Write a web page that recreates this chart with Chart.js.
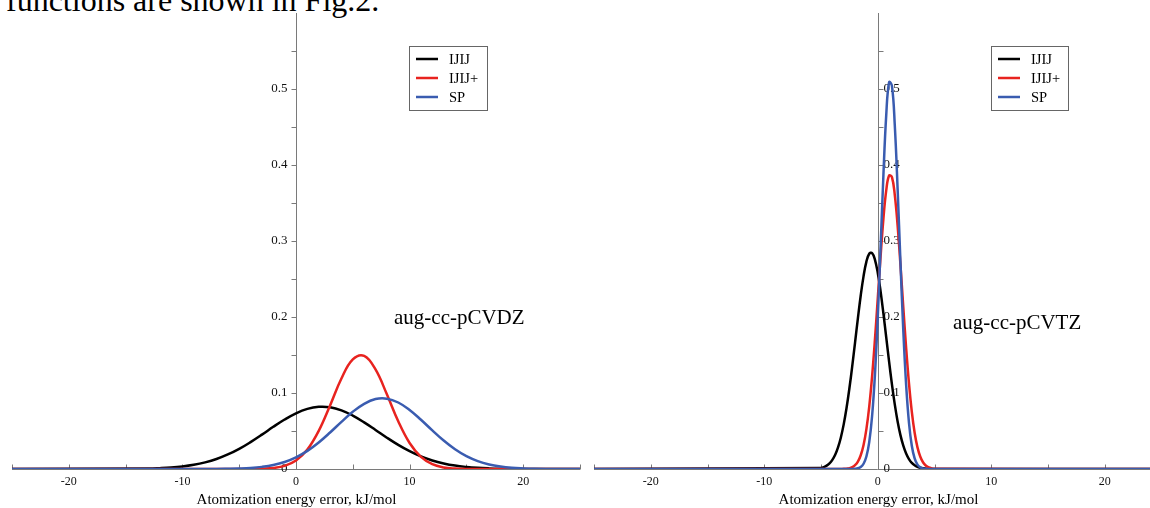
<!DOCTYPE html>
<html>
<head>
<meta charset="utf-8">
<script src="https://cdn.jsdelivr.net/npm/chart.js@4.4.0/dist/chart.umd.min.js"></script>
<style>
  html, body { margin: 0; padding: 0; background: #fff; }
  #wrap { position: relative; width: 1150px; height: 508px; overflow: hidden; background: #fff; }
  #caption { position: absolute; left: 6px; top: -18px; line-height: 32px; font: 32px "Liberation Serif", serif; color: #000; white-space: nowrap; }
  .panel { position: absolute; top: 0; height: 508px; }
  #panelL { left: 0; width: 600px; }
  #panelR { left: 590px; width: 580px; }
</style>
</head>
<body>
<div id="wrap">
  <div id="caption">functions are shown in Fig.2.</div>
  <div class="panel" id="panelL"><canvas id="chartL" width="600" height="508"></canvas></div>
  <div class="panel" id="panelR"><canvas id="chartR" width="580" height="508"></canvas></div>
</div>
<script>
// --- Data ---
const seriesNames = ['IJIJ', 'IJIJ+', 'SP'];
const seriesColors = ['#000000', '#e8231f', '#3a5cb0'];

// aug-cc-pCVDZ panel
const leftX = [-25, -13, -12, -11, -10, -9, -8, -7, -6, -5, -4, -3, -2, -1, 0, 1, 2, 3, 4, 5, 6, 7, 8, 9, 10,
  11, 12, 13, 14, 15, 16, 17, 18, 19, 20, 21, 22, 25];
const leftIJIJ = [0, 0.0006, 0.0011, 0.0019, 0.0033, 0.0055, 0.0087, 0.0131, 0.0191, 0.0265, 0.0354, 0.0452,
  0.0555, 0.0651, 0.0733, 0.0791, 0.0818, 0.0812, 0.0772, 0.0703, 0.0614, 0.0514, 0.0412, 0.0317, 0.0234,
  0.0165, 0.0112, 0.0073, 0.0045, 0.0027, 0.0015, 0.0008, 0.0004, 0.0002, 0.0001, 0, 0, 0];
const leftIJIJplus = [0, 0, 0, 0, 0, 0, 0, 0, 0, 0, 0, 0.0004, 0.0013, 0.0041, 0.0111, 0.0256, 0.0502, 0.0837,
  0.1190, 0.1442, 0.1489, 0.1310, 0.0983, 0.0628, 0.0342, 0.0159, 0.0063, 0.0021, 0.0006, 0.0001,
  0, 0, 0, 0, 0, 0, 0, 0];
const leftSP = [0, 0, 0, 0, 0, 0, 0, 0, 0.0003, 0.0007, 0.0014, 0.0028, 0.0052, 0.0092, 0.0153, 0.0238, 0.0349,
  0.0480, 0.0620, 0.0753, 0.0858, 0.0920, 0.0925, 0.0875, 0.0777, 0.0648, 0.0508, 0.0374, 0.0259, 0.0168,
  0.0103, 0.0059, 0.0032, 0.0016, 0.0008, 0.0003, 0.0001, 0];

// aug-cc-pCVTZ panel
const rightX = [-25, -5, -4.75, -4.5, -4.25, -4, -3.75, -3.5, -3.25, -3, -2.75, -2.5, -2.25, -2, -1.75, -1.5,
  -1.25, -1, -0.75, -0.5, -0.25, 0, 0.25, 0.5, 0.75, 1, 1.25, 1.5, 1.75, 2, 2.25, 2.5, 2.75, 3, 3.25, 3.5,
  3.75, 4, 4.25, 4.5, 4.75, 5, 25];
const rightIJIJ = [0, 0.0014, 0.0025, 0.0044, 0.0074, 0.0120, 0.0187, 0.0284, 0.0415, 0.0587, 0.0802, 0.1059,
  0.1350, 0.1664, 0.1982, 0.2283, 0.2538, 0.2728, 0.2832, 0.2842, 0.2756, 0.2582, 0.2338, 0.2045, 0.1729,
  0.1412, 0.1114, 0.0850, 0.0626, 0.0446, 0.0307, 0.0204, 0.0131, 0.0081, 0.0049, 0.0028, 0.0016, 0.0009,
  0.0005, 0.0002, 0.0001, 0, 0];
const rightIJIJplus = [0, 0, 0, 0, 0, 0, 0, 0, 0.0001, 0.0002, 0.0005, 0.0011, 0.0024, 0.0050, 0.0097, 0.0181,
  0.0317, 0.0525, 0.0822, 0.1215, 0.1698, 0.2241, 0.2796, 0.3295, 0.3670, 0.3862, 0.3840, 0.3608, 0.3203,
  0.2687, 0.2130, 0.1595, 0.1129, 0.0755, 0.0477, 0.0285, 0.0161, 0.0086, 0.0043, 0.0020, 0.0009, 0.0004, 0];
const rightSP = [0, 0, 0, 0, 0, 0, 0, 0, 0, 0, 0, 0, 0.0001, 0.0003, 0.0009, 0.0026, 0.0069, 0.0164, 0.0354,
  0.0694, 0.1235, 0.1994, 0.2917, 0.3872, 0.4662, 0.5090, 0.5041, 0.4527, 0.3688, 0.2725, 0.1826, 0.1110,
  0.0611, 0.0306, 0.0139, 0.0057, 0.0021, 0.0007, 0.0002, 0, 0, 0, 0];

// --- Axes ---
const xMin = -25, xMax = 25, yMin = 0, yMax = 0.6;
const xTickMarks = [-25, -20, -15, -10, -5, 0, 5, 10, 15, 20, 25];
const xTickLabels = ['-20', '-10', '0', '10', '20'];
const yTickMarks = [0.05, 0.1, 0.15, 0.2, 0.25, 0.3, 0.35, 0.4, 0.45, 0.5, 0.55];
const yTickLabels = ['0', '0.1', '0.2', '0.3', '0.4', '0.5'];
const xTitle = 'Atomization energy error, kJ/mol';

const SERIF = '"Liberation Serif", "DejaVu Serif", serif';

// --- Custom axes through the origin + legend + basis label ---
function panelPlugin(cfg) {
  return {
    id: 'panelDecor',
    beforeDatasetsDraw(chart) {
      const { ctx, scales: { x, y } } = chart;
      const x0 = Math.round(x.getPixelForValue(0)) + 0.5;
      const y0 = Math.round(y.getPixelForValue(0)) + 0.5;
      ctx.save();
      ctx.strokeStyle = '#7a7a7a';
      ctx.lineWidth = 1;
      ctx.beginPath();
      ctx.moveTo(x.left, y0); ctx.lineTo(x.right, y0);
      ctx.moveTo(x0, y0); ctx.lineTo(x0, y.top);
      xTickMarks.forEach(v => {
        const px = Math.round(x.getPixelForValue(v)) + 0.5;
        ctx.moveTo(px, y0); ctx.lineTo(px, y0 - 5);
      });
      yTickMarks.forEach(v => {
        const py = Math.round(y.getPixelForValue(v)) + 0.5;
        ctx.moveTo(x0, py); ctx.lineTo(x0 + cfg.tickDir * 5, py);
      });
      ctx.stroke();

      ctx.fillStyle = '#111';
      ctx.font = '12px ' + SERIF;
      ctx.textBaseline = 'middle';
      ctx.textAlign = 'center';
      xTickLabels.forEach(t => {
        ctx.fillText(t, x.getPixelForValue(parseFloat(t)), y0 + 12);
      });
      ctx.font = '13px ' + SERIF;
      ctx.textAlign = cfg.tickDir < 0 ? 'right' : 'left';
      yTickLabels.forEach(t => {
        ctx.fillText(t, x0 + cfg.labelOffset, y.getPixelForValue(parseFloat(t)));
      });
      ctx.font = '15px ' + SERIF;
      ctx.textAlign = 'center';
      ctx.fillStyle = '#000';
      ctx.fillText(xTitle, x0, y0 + 31);
      ctx.restore();
    },
    afterDraw(chart) {
      const { ctx } = chart;
      ctx.save();
      // legend box
      const lb = cfg.legend;
      ctx.fillStyle = '#fff';
      ctx.fillRect(lb.x, lb.y, lb.w, lb.h);
      ctx.strokeStyle = '#666';
      ctx.lineWidth = 1;
      ctx.strokeRect(lb.x + 0.5, lb.y + 0.5, lb.w, lb.h);
      ctx.font = '14.5px ' + SERIF;
      ctx.textBaseline = 'middle';
      ctx.textAlign = 'left';
      seriesNames.forEach((name, i) => {
        const ry = lb.y + 13 + i * 19;
        ctx.strokeStyle = seriesColors[i];
        ctx.lineWidth = 2.5;
        ctx.beginPath();
        ctx.moveTo(lb.x + 7, ry); ctx.lineTo(lb.x + 29, ry);
        ctx.stroke();
        ctx.fillStyle = '#000';
        ctx.fillText(name, lb.x + 40, ry + 1);
      });
      // basis set label
      ctx.font = '21px ' + SERIF;
      ctx.fillStyle = '#000';
      ctx.fillText(cfg.basis, cfg.basisX, cfg.basisY);
      ctx.restore();
    }
  };
}

function makeChart(canvasId, xs, ys, cfg) {
  const datasets = ys.map((vals, i) => ({
    label: seriesNames[i],
    data: xs.map((xv, k) => ({ x: xv, y: vals[k] })),
    borderColor: seriesColors[i],
    borderWidth: 2.5,
    pointRadius: 0,
    fill: false,
    tension: 0.4,
    order: 2 - i
  }));
  return new Chart(document.getElementById(canvasId).getContext('2d'), {
    type: 'line',
    data: { datasets },
    options: {
      responsive: false,
      animation: false,
      events: [],
      layout: { padding: cfg.padding },
      plugins: { legend: { display: false }, tooltip: { enabled: false } },
      scales: {
        x: { type: 'linear', min: xMin, max: xMax, display: false },
        y: { type: 'linear', min: yMin, max: yMax, display: false }
      }
    },
    plugins: [panelPlugin(cfg)]
  });
}

makeChart('chartL', leftX, [leftIJIJ, leftIJIJplus, leftSP], {
  padding: { left: 12, right: 20, top: 13, bottom: 39 },
  tickDir: -1, labelOffset: -9,
  legend: { x: 409, y: 46, w: 78, h: 64 },
  basis: 'aug-cc-pCVDZ', basisX: 394, basisY: 318
});

makeChart('chartR', rightX, [rightIJIJ, rightIJIJplus, rightSP], {
  padding: { left: 4, right: 8.5, top: 13, bottom: 39 },
  tickDir: 1, labelOffset: 5,
  legend: { x: 401, y: 46, w: 77, h: 64 },
  basis: 'aug-cc-pCVTZ', basisX: 363, basisY: 323
});
</script>
</body>
</html>
